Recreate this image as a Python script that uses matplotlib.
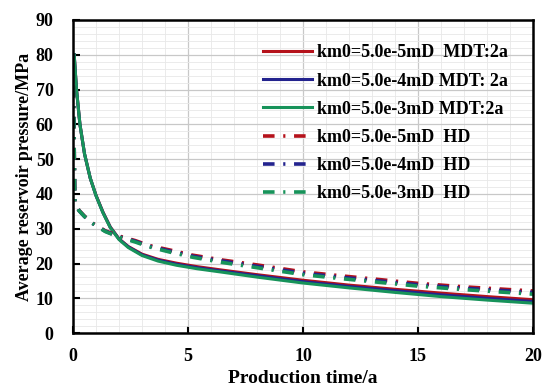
import numpy as np
import matplotlib.pyplot as plt
from matplotlib.ticker import MultipleLocator

plt.rcParams['font.family'] = ['Liberation Serif', 'DejaVu Serif']
plt.rcParams['font.weight'] = 'bold'

# solid curves (MDT: 2a)
t_mdt = [0.05, 0.15, 0.3, 0.5, 0.75, 1.0, 1.3, 1.62, 2.0, 2.4, 3.0, 3.7, 4.5, 5.4,
         6.5, 8, 10, 12, 14, 16, 18, 20]
p_mdt_3 = [80, 70, 60, 51.5, 44.5, 39.5, 34.6, 30.3, 26.9, 24.6, 22.3, 20.7, 19.5, 18.5,
           17.5, 16.1, 14.4, 13.0, 11.7, 10.5, 9.5, 8.6]
p_mdt_4 = [80, 70, 60, 51.5, 44.5, 39.5, 34.7, 30.4, 27.0, 24.8, 22.5, 21.0, 19.8, 18.8,
           17.8, 16.5, 14.8, 13.4, 12.2, 11.0, 10.0, 9.1]
p_mdt_5 = [80, 70, 60, 51.5, 44.5, 39.6, 34.8, 30.5, 27.1, 24.9, 22.7, 21.2, 20.1, 19.1,
           18.1, 16.8, 15.2, 13.8, 12.6, 11.5, 10.5, 9.6]

# dash-dot curves (HD)
t_hd = [0, 0.08, 0.26, 0.5, 0.83, 1.4, 2, 2.7, 3.3, 4.2, 5.2, 6.5, 8, 10, 11.6,
        13, 15, 17, 20]
p_hd_3 = [80, 37.5, 35.2, 33.5, 31.6, 29.2, 27.6, 26.2, 24.8, 23.3, 21.8, 20.3, 18.8,
          16.8, 15.7, 14.8, 13.5, 12.5, 11.2]
p_hd_4 = [80, 37.5, 35.2, 33.5, 31.6, 29.3, 27.7, 26.4, 25.0, 23.6, 22.1, 20.7, 19.2,
          17.2, 16.1, 15.2, 13.9, 12.9, 11.7]
p_hd_5 = [80, 37.5, 35.3, 33.6, 31.7, 29.4, 27.9, 26.6, 25.2, 23.9, 22.4, 21.0, 19.6,
          17.6, 16.5, 15.6, 14.3, 13.3, 12.1]

labels_mdt = ['km0=5.0e-5mD  MDT:2a', 'km0=5.0e-4mD MDT: 2a', 'km0=5.0e-3mD MDT:2a']
labels_hd = ['km0=5.0e-5mD  HD', 'km0=5.0e-4mD  HD', 'km0=5.0e-3mD  HD']
colors = ['#b5121b', '#23238e', '#17935a']

fig = plt.figure(figsize=(5.45, 3.91), dpi=100)
ax = fig.add_axes([0.134, 0.148, 0.844, 0.801])

for p, lab, c in zip([p_mdt_5, p_mdt_4, p_mdt_3], labels_mdt, colors):
    ax.plot(t_mdt, p, color=c, lw=2.2, label=lab)
for p, lab, c in zip([p_hd_5, p_hd_4, p_hd_3], labels_hd, colors):
    ax.plot(t_hd, p, color=c, lw=2.6, ls=(0, (3.2, 2.4, 0.6, 2.4)), label=lab)

ax.set_xlim(0, 20)
ax.set_ylim(0, 90)
ax.xaxis.set_major_locator(MultipleLocator(5))
ax.xaxis.set_minor_locator(MultipleLocator(1))
ax.yaxis.set_major_locator(MultipleLocator(10))
ax.yaxis.set_minor_locator(MultipleLocator(2))
ax.grid(which='major', color='#c8c8c8', lw=0.9)
ax.grid(which='minor', color='#e8e8e8', lw=0.6)
ax.tick_params(which='major', direction='in', length=5, width=1.5, labelsize=13)
ax.tick_params(axis='x', pad=11)
ax.tick_params(axis='y', pad=14)
ax.tick_params(which='minor', length=0)
for s in ax.spines.values():
    s.set_linewidth(1.8)

ax.set_xlabel('Production time/a', fontsize=14, fontweight='bold', labelpad=3)
ax.set_ylabel('Average reservoir pressure/MPa', fontsize=13, fontweight='bold', labelpad=2)

ax.legend(loc='upper left', frameon=False, fontsize=13, handlelength=2.7,
          handletextpad=0.3, labelspacing=0.62, borderpad=0, borderaxespad=0,
          bbox_to_anchor=(0.413, 0.922))

fig.savefig('out.png', dpi=100)
